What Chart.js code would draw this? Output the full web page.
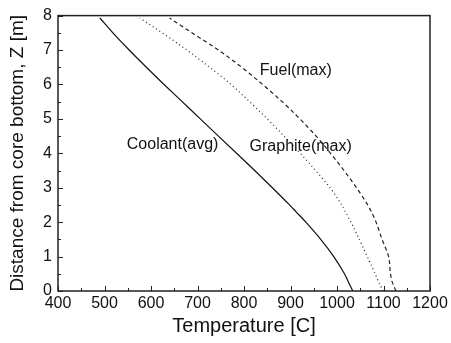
<!DOCTYPE html>
<html>
<head>
<meta charset="utf-8">
<script src="https://cdn.jsdelivr.net/npm/chart.js@4"></script>
<style>
html,body{margin:0;padding:0;background:#fff;}
#box{width:451px;height:343px;}
</style>
</head>
<body>
<div id="box"><canvas id="graph"></canvas></div>
<script>
// hauteur dans le coeur (m)
const zLevels = [0, 0.25, 0.5, 1, 1.5, 2, 2.3, 2.5, 3, 3.5, 4, 4.5, 5, 5.5, 6, 6.5, 7, 7.5, 7.93];

// temperatures (C)
const coolantAvg  = [1034, 1025, 1016, 993, 965, 933, 912, 898, 861, 823, 784, 745, 706, 667, 628, 590, 553, 518, 490];
const graphiteMax = [1099, 1090, 1082, 1065, 1048, 1030, 1018, 1010, 985, 954, 921, 886, 850, 812, 772, 726, 677, 624, 576];
const fuelMax     = [1127, 1119, 1115, 1111, 1097, 1084, 1074, 1066, 1042, 1015, 986, 955, 920, 882, 840, 795, 745, 688, 640];

const xTicks = [400, 500, 600, 700, 800, 900, 1000, 1100, 1200];
const yTicks = [0, 1, 2, 3, 4, 5, 6, 7, 8];

// etiquettes posees dans le graphe (x = temperature, y = hauteur)
const curveLabels = [
  {text: "Coolant(avg)", x: 548, y: 4.24},
  {text: "Graphite(max)", x: 812, y: 4.19},
  {text: "Fuel(max)", x: 834, y: 6.4}
];

function points(temps) {
  return temps.map((t, i) => ({x: t, y: zLevels[i]}));
}

const police = "'Liberation Sans', Arial, sans-serif";

/* cadre + petits traits vers l'interieur + textes */
const cadrePlugin = {
  id: "cadre",
  afterDraw(chart) {
    const ctx = chart.ctx;
    const a = chart.chartArea;
    const sx = chart.scales.x;
    const sy = chart.scales.y;
    ctx.save();
    ctx.strokeStyle = "#222";
    ctx.lineWidth = 1;
    // traits x
    for (let v = 400; v <= 1200; v += 50) {
      const px = Math.round(sx.getPixelForValue(v)) + 0.5;
      const len = (v % 100 === 0) ? 5 : 3;
      ctx.beginPath();
      ctx.moveTo(px, a.bottom);
      ctx.lineTo(px, a.bottom - len);
      ctx.stroke();
    }
    // traits y
    for (let v = 0; v <= 8; v += 0.5) {
      const py = Math.round(sy.getPixelForValue(v)) + 0.5;
      const len = (v % 1 === 0) ? 5 : 3;
      ctx.beginPath();
      ctx.moveTo(a.left, py);
      ctx.lineTo(a.left + len, py);
      ctx.stroke();
    }
    ctx.lineWidth = 1.5;
    ctx.strokeRect(a.left, a.top, a.right - a.left, a.bottom - a.top);
    // noms des courbes
    ctx.fillStyle = "#111";
    ctx.font = "16px " + police;
    ctx.textBaseline = "middle";
    ctx.textAlign = "left";
    curveLabels.forEach(l => {
      ctx.fillText(l.text, sx.getPixelForValue(l.x), sy.getPixelForValue(l.y));
    });
    ctx.restore();
  }
};

const styleCourbe = {indexAxis: "y", cubicInterpolationMode: "monotone", borderWidth: 1.2};

new Chart(document.getElementById("graph"), {
  type: "line",
  data: {
    datasets: [
      {...styleCourbe, label: "Coolant(avg)", data: points(coolantAvg), borderColor: "#111"},
      {...styleCourbe, label: "Graphite(max)", data: points(graphiteMax), borderColor: "#222", borderDash: [1, 3]},
      {...styleCourbe, label: "Fuel(max)", data: points(fuelMax), borderColor: "#222", borderDash: [4, 3]}
    ]
  },
  options: {
    responsive: true,
    maintainAspectRatio: false,
    animation: false,
    events: [],
    elements: {point: {radius: 0}},
    layout: {padding: {left: 0, right: 21, top: 15, bottom: 0}},
    plugins: {legend: {display: false}, tooltip: {enabled: false}},
    scales: {
      x: {
        type: "linear",
        min: 400, max: 1200,
        afterBuildTicks: s => { s.ticks = xTicks.map(v => ({value: v})); },
        afterFit: s => { s.height = 52; },
        grid: {display: false, drawTicks: false},
        border: {display: false},
        ticks: {color: "#111", padding: 3, font: {family: police, size: 16}, maxRotation: 0, callback: v => String(v)},
        title: {display: true, text: "Temperature [C]", color: "#111", padding: {top: 0, bottom: 5}, font: {family: police, size: 20}}
      },
      y: {
        type: "linear",
        min: 0, max: 8,
        afterBuildTicks: s => { s.ticks = yTicks.map(v => ({value: v})); },
        afterFit: s => { s.width = 58; },
        grid: {display: false, drawTicks: false},
        border: {display: false},
        ticks: {color: "#111", padding: 6, font: {family: police, size: 16}, callback: v => String(v)},
        title: {display: true, text: "Distance from core bottom, Z [m]", color: "#111", padding: {top: 6, bottom: 0}, font: {family: police, size: 19}}
      }
    }
  },
  plugins: [cadrePlugin]
});
</script>
</body>
</html>
